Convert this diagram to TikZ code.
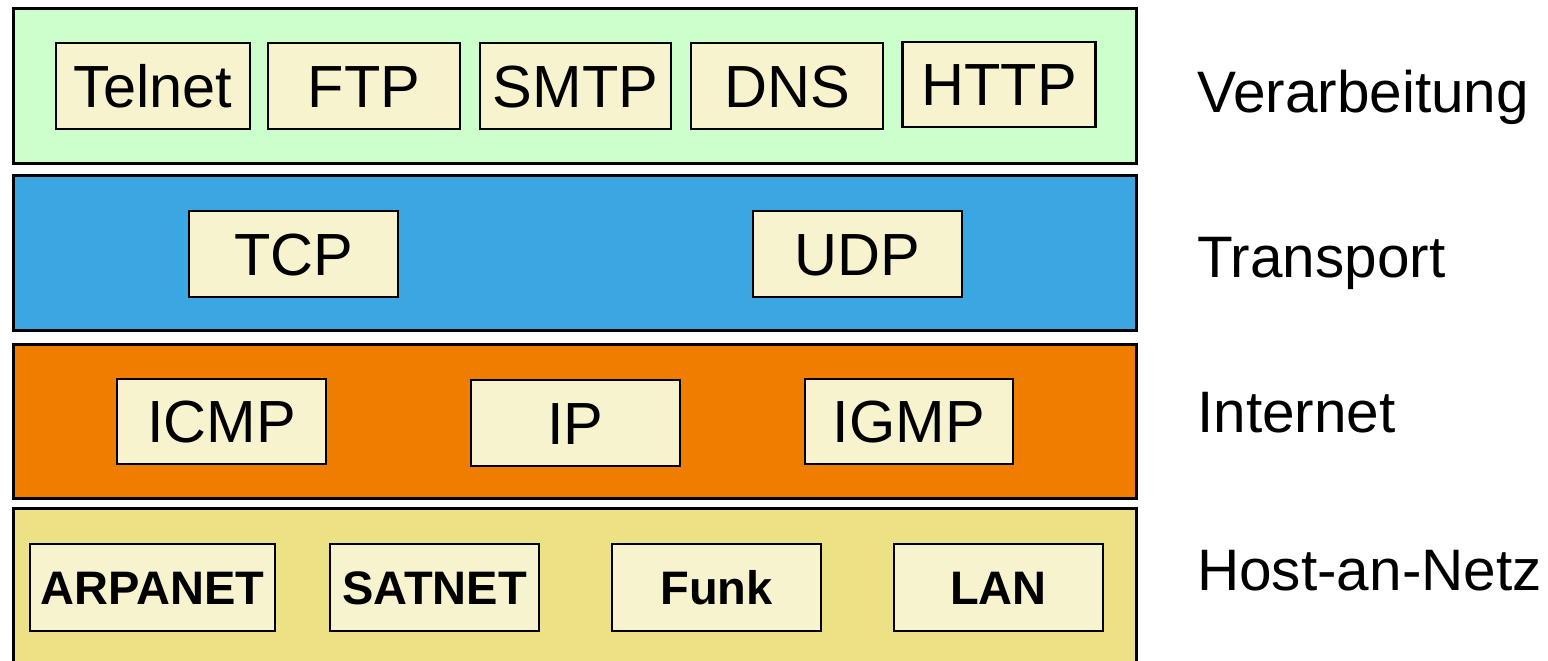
\documentclass[tikz,border=0pt]{standalone}
\usepackage{fontspec}
\setmainfont{Liberation Sans}
\definecolor{appgreen}{HTML}{CCFFCC}
\definecolor{transblue}{HTML}{3AA6E2}
\definecolor{netorange}{HTML}{EF7D00}
\definecolor{hostkhaki}{HTML}{ECE185}
\definecolor{protocream}{HTML}{F7F3CF}
\tikzset{
  layer/.style={draw=black, line width=3pt, rectangle, minimum width=1123pt, inner sep=0pt},
  proto/.style={draw=black, line width=2.6pt, fill=protocream, rectangle, inner sep=0pt,
    minimum height=86pt, font=\fontsize{59.5}{62}\selectfont, text height=42.5pt, text depth=0pt},
  linkproto/.style={proto, font=\fontsize{47}{50}\selectfont\bfseries, text height=33.6pt},
  layername/.style={anchor=base west, inner sep=0pt, font=\fontsize{58.5}{62}\selectfont}
}
\begin{document}
\begin{tikzpicture}[x=1pt, y=-1pt]
\useasboundingbox (0,0) rectangle (1548,661);

% the four layers
\node[layer, fill=appgreen, minimum height=155pt] (app) at (575,86) {};
\node[layer, fill=transblue, minimum height=155pt] (trans) at (575,253) {};
\node[layer, fill=netorange, minimum height=154pt] (inet) at (575,421.5) {};
\node[layer, fill=hostkhaki, minimum height=167pt] (host) at (575,592) {};

% application protocols
\node[proto, minimum width=194pt] (telnet) at (153,86) {Telnet};
\node[proto, minimum width=192pt] (ftp) at (364,86) {FTP};
\node[proto, minimum width=191pt] (smtp) at (575.5,86) {SMTP};
\node[proto, minimum width=192pt] (dns) at (787,86) {DNS};
\node[proto, minimum width=193pt, minimum height=85pt] (http) at (999,84.5) {HTTP};

% transport protocols
\node[proto, minimum width=209pt] (tcp) at (293.5,254) {TCP};
\node[proto, minimum width=209pt] (udp) at (857.5,254) {UDP};

% internet protocols
\node[proto, minimum width=209pt, minimum height=85pt] (icmp) at (221.5,421.5) {ICMP};
\node[proto, minimum width=209pt] (ip) at (575.5,423) {IP};
\node[proto, minimum width=208pt, minimum height=85pt] (igmp) at (909,421.5) {IGMP};

% host-to-network
\node[linkproto, minimum width=245pt, minimum height=87pt] (arpanet) at (152.5,587.5) {ARPANET};
\node[linkproto, minimum width=209pt, minimum height=87pt] (satnet) at (434.5,587.5) {SATNET};
\node[linkproto, minimum width=209pt, minimum height=87pt] (funk) at (716.5,587.5) {Funk};
\node[linkproto, minimum width=209pt, minimum height=87pt] (lan) at (998.5,587.5) {LAN};

% layer names
\node[layername] (nameapp) at (1197,112) {Verarbeitung};
\node[layername] (nametrans) at (1197,277) {Transport};
\node[layername] (nameinet) at (1197,432) {Internet};
\node[layername] (namehost) at (1197,590) {Host-an-Netz};
\end{tikzpicture}
\end{document}
